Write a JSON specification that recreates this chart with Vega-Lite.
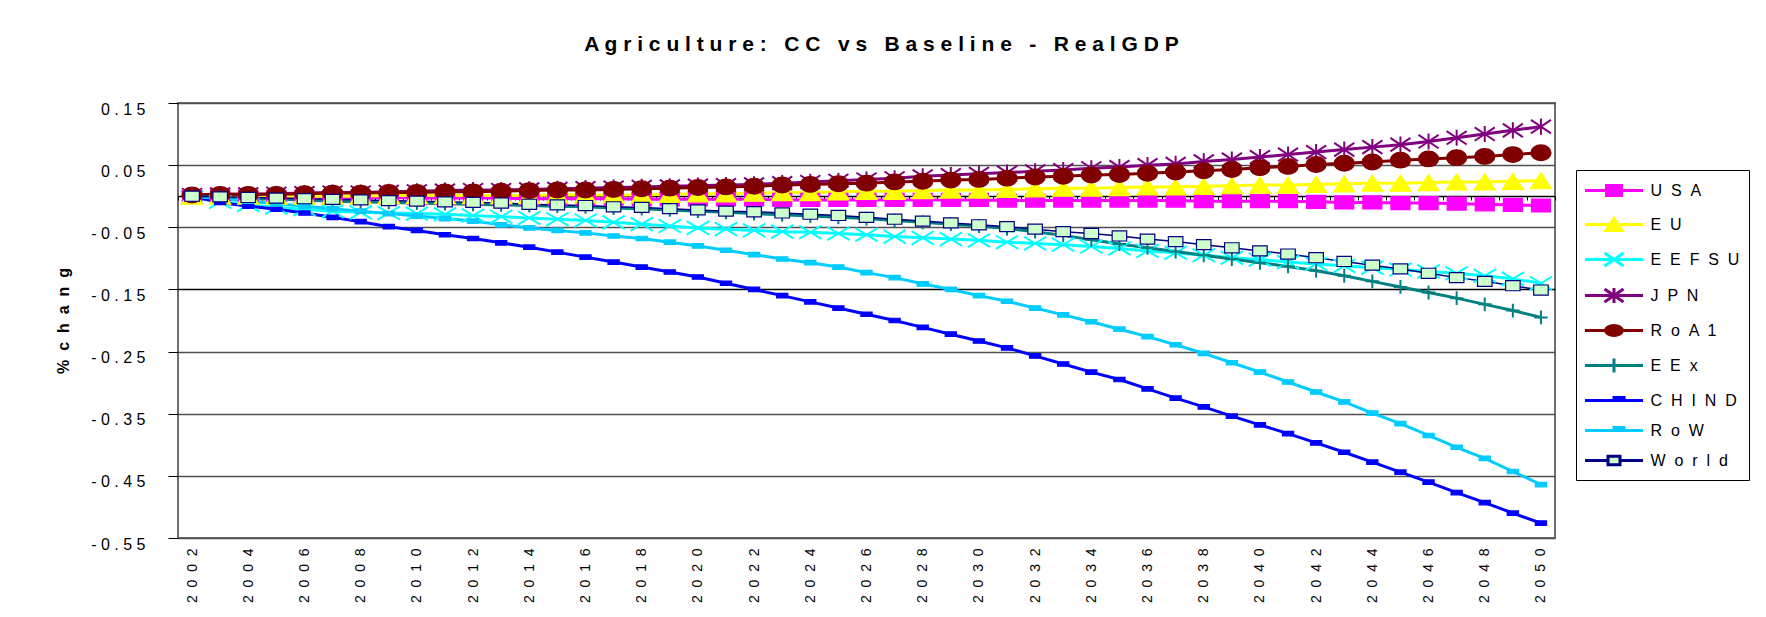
{
"$schema": "https://vega.github.io/schema/vega-lite/v6.json",
"width": 1377, "height": 435,
"autosize": {"type": "none"},
"padding": {"left": 178, "top": 103, "right": 211, "bottom": 79},
"background": "white",
"title": {"text": "A g r i c u l t u r e : \u00a0 C C \u00a0 v s \u00a0 B a s e l i n e \u00a0 - \u00a0 R e a l G D P", "fontSize": 21, "fontWeight": "bold", "color": "black", "anchor": "middle", "frame": "group", "dx": 15, "offset": 46},
"config": {"font": "Liberation Sans", "view": {"stroke": "#6E6E6E", "strokeWidth": 2, "fill": "#C0C0C0"}, "axis": {"labelColor": "black", "titleColor": "black"}},
"data": {"values": [
{"series":"USA","year":2002,"value":0},{"series":"USA","year":2003,"value":0},{"series":"USA","year":2004,"value":-0.001},{"series":"USA","year":2005,"value":-0.001},{"series":"USA","year":2006,"value":-0.001},{"series":"USA","year":2007,"value":-0.002},{"series":"USA","year":2008,"value":-0.002},{"series":"USA","year":2009,"value":-0.002},{"series":"USA","year":2010,"value":-0.003},{"series":"USA","year":2011,"value":-0.003},{"series":"USA","year":2012,"value":-0.003},{"series":"USA","year":2013,"value":-0.003},{"series":"USA","year":2014,"value":-0.004},{"series":"USA","year":2015,"value":-0.004},{"series":"USA","year":2016,"value":-0.004},{"series":"USA","year":2017,"value":-0.004},{"series":"USA","year":2018,"value":-0.005},{"series":"USA","year":2019,"value":-0.005},{"series":"USA","year":2020,"value":-0.005},{"series":"USA","year":2021,"value":-0.005},{"series":"USA","year":2022,"value":-0.005},{"series":"USA","year":2023,"value":-0.006},{"series":"USA","year":2024,"value":-0.006},{"series":"USA","year":2025,"value":-0.006},{"series":"USA","year":2026,"value":-0.006},{"series":"USA","year":2027,"value":-0.006},{"series":"USA","year":2028,"value":-0.006},{"series":"USA","year":2029,"value":-0.006},{"series":"USA","year":2030,"value":-0.006},{"series":"USA","year":2031,"value":-0.007},{"series":"USA","year":2032,"value":-0.007},{"series":"USA","year":2033,"value":-0.007},{"series":"USA","year":2034,"value":-0.007},{"series":"USA","year":2035,"value":-0.007},{"series":"USA","year":2036,"value":-0.007},{"series":"USA","year":2037,"value":-0.007},{"series":"USA","year":2038,"value":-0.008},{"series":"USA","year":2039,"value":-0.008},{"series":"USA","year":2040,"value":-0.008},{"series":"USA","year":2041,"value":-0.008},{"series":"USA","year":2042,"value":-0.009},{"series":"USA","year":2043,"value":-0.010},{"series":"USA","year":2044,"value":-0.010},{"series":"USA","year":2045,"value":-0.011},{"series":"USA","year":2046,"value":-0.011},{"series":"USA","year":2047,"value":-0.012},{"series":"USA","year":2048,"value":-0.013},{"series":"USA","year":2049,"value":-0.014},{"series":"USA","year":2050,"value":-0.015},
{"series":"EU","year":2002,"value":0},{"series":"EU","year":2003,"value":0},{"series":"EU","year":2004,"value":0},{"series":"EU","year":2005,"value":0},{"series":"EU","year":2006,"value":0},{"series":"EU","year":2007,"value":0},{"series":"EU","year":2008,"value":0},{"series":"EU","year":2009,"value":0.001},{"series":"EU","year":2010,"value":0.001},{"series":"EU","year":2011,"value":0.001},{"series":"EU","year":2012,"value":0.001},{"series":"EU","year":2013,"value":0.001},{"series":"EU","year":2014,"value":0.001},{"series":"EU","year":2015,"value":0.002},{"series":"EU","year":2016,"value":0.002},{"series":"EU","year":2017,"value":0.002},{"series":"EU","year":2018,"value":0.002},{"series":"EU","year":2019,"value":0.003},{"series":"EU","year":2020,"value":0.004},{"series":"EU","year":2021,"value":0.004},{"series":"EU","year":2022,"value":0.005},{"series":"EU","year":2023,"value":0.006},{"series":"EU","year":2024,"value":0.006},{"series":"EU","year":2025,"value":0.007},{"series":"EU","year":2026,"value":0.008},{"series":"EU","year":2027,"value":0.008},{"series":"EU","year":2028,"value":0.009},{"series":"EU","year":2029,"value":0.010},{"series":"EU","year":2030,"value":0.010},{"series":"EU","year":2031,"value":0.011},{"series":"EU","year":2032,"value":0.012},{"series":"EU","year":2033,"value":0.013},{"series":"EU","year":2034,"value":0.013},{"series":"EU","year":2035,"value":0.014},{"series":"EU","year":2036,"value":0.015},{"series":"EU","year":2037,"value":0.015},{"series":"EU","year":2038,"value":0.016},{"series":"EU","year":2039,"value":0.017},{"series":"EU","year":2040,"value":0.018},{"series":"EU","year":2041,"value":0.018},{"series":"EU","year":2042,"value":0.019},{"series":"EU","year":2043,"value":0.020},{"series":"EU","year":2044,"value":0.021},{"series":"EU","year":2045,"value":0.021},{"series":"EU","year":2046,"value":0.022},{"series":"EU","year":2047,"value":0.023},{"series":"EU","year":2048,"value":0.023},{"series":"EU","year":2049,"value":0.024},{"series":"EU","year":2050,"value":0.025},
{"series":"EEFSU","year":2002,"value":-0.002},{"series":"EEFSU","year":2003,"value":-0.009},{"series":"EEFSU","year":2004,"value":-0.014},{"series":"EEFSU","year":2005,"value":-0.018},{"series":"EEFSU","year":2006,"value":-0.021},{"series":"EEFSU","year":2007,"value":-0.024},{"series":"EEFSU","year":2008,"value":-0.026},{"series":"EEFSU","year":2009,"value":-0.027},{"series":"EEFSU","year":2010,"value":-0.028},{"series":"EEFSU","year":2011,"value":-0.029},{"series":"EEFSU","year":2012,"value":-0.031},{"series":"EEFSU","year":2013,"value":-0.033},{"series":"EEFSU","year":2014,"value":-0.035},{"series":"EEFSU","year":2015,"value":-0.037},{"series":"EEFSU","year":2016,"value":-0.039},{"series":"EEFSU","year":2017,"value":-0.042},{"series":"EEFSU","year":2018,"value":-0.045},{"series":"EEFSU","year":2019,"value":-0.048},{"series":"EEFSU","year":2020,"value":-0.051},{"series":"EEFSU","year":2021,"value":-0.053},{"series":"EEFSU","year":2022,"value":-0.055},{"series":"EEFSU","year":2023,"value":-0.057},{"series":"EEFSU","year":2024,"value":-0.058},{"series":"EEFSU","year":2025,"value":-0.060},{"series":"EEFSU","year":2026,"value":-0.062},{"series":"EEFSU","year":2027,"value":-0.065},{"series":"EEFSU","year":2028,"value":-0.067},{"series":"EEFSU","year":2029,"value":-0.069},{"series":"EEFSU","year":2030,"value":-0.071},{"series":"EEFSU","year":2031,"value":-0.074},{"series":"EEFSU","year":2032,"value":-0.076},{"series":"EEFSU","year":2033,"value":-0.078},{"series":"EEFSU","year":2034,"value":-0.081},{"series":"EEFSU","year":2035,"value":-0.084},{"series":"EEFSU","year":2036,"value":-0.088},{"series":"EEFSU","year":2037,"value":-0.091},{"series":"EEFSU","year":2038,"value":-0.095},{"series":"EEFSU","year":2039,"value":-0.099},{"series":"EEFSU","year":2040,"value":-0.102},{"series":"EEFSU","year":2041,"value":-0.106},{"series":"EEFSU","year":2042,"value":-0.109},{"series":"EEFSU","year":2043,"value":-0.112},{"series":"EEFSU","year":2044,"value":-0.115},{"series":"EEFSU","year":2045,"value":-0.118},{"series":"EEFSU","year":2046,"value":-0.121},{"series":"EEFSU","year":2047,"value":-0.124},{"series":"EEFSU","year":2048,"value":-0.128},{"series":"EEFSU","year":2049,"value":-0.133},{"series":"EEFSU","year":2050,"value":-0.140},
{"series":"JPN","year":2002,"value":0.002},{"series":"JPN","year":2003,"value":0.003},{"series":"JPN","year":2004,"value":0.003},{"series":"JPN","year":2005,"value":0.004},{"series":"JPN","year":2006,"value":0.005},{"series":"JPN","year":2007,"value":0.006},{"series":"JPN","year":2008,"value":0.006},{"series":"JPN","year":2009,"value":0.007},{"series":"JPN","year":2010,"value":0.008},{"series":"JPN","year":2011,"value":0.009},{"series":"JPN","year":2012,"value":0.010},{"series":"JPN","year":2013,"value":0.010},{"series":"JPN","year":2014,"value":0.011},{"series":"JPN","year":2015,"value":0.012},{"series":"JPN","year":2016,"value":0.013},{"series":"JPN","year":2017,"value":0.014},{"series":"JPN","year":2018,"value":0.015},{"series":"JPN","year":2019,"value":0.016},{"series":"JPN","year":2020,"value":0.017},{"series":"JPN","year":2021,"value":0.018},{"series":"JPN","year":2022,"value":0.019},{"series":"JPN","year":2023,"value":0.021},{"series":"JPN","year":2024,"value":0.023},{"series":"JPN","year":2025,"value":0.025},{"series":"JPN","year":2026,"value":0.027},{"series":"JPN","year":2027,"value":0.029},{"series":"JPN","year":2028,"value":0.032},{"series":"JPN","year":2029,"value":0.034},{"series":"JPN","year":2030,"value":0.036},{"series":"JPN","year":2031,"value":0.038},{"series":"JPN","year":2032,"value":0.040},{"series":"JPN","year":2033,"value":0.042},{"series":"JPN","year":2034,"value":0.045},{"series":"JPN","year":2035,"value":0.047},{"series":"JPN","year":2036,"value":0.050},{"series":"JPN","year":2037,"value":0.052},{"series":"JPN","year":2038,"value":0.056},{"series":"JPN","year":2039,"value":0.059},{"series":"JPN","year":2040,"value":0.063},{"series":"JPN","year":2041,"value":0.067},{"series":"JPN","year":2042,"value":0.071},{"series":"JPN","year":2043,"value":0.075},{"series":"JPN","year":2044,"value":0.079},{"series":"JPN","year":2045,"value":0.083},{"series":"JPN","year":2046,"value":0.088},{"series":"JPN","year":2047,"value":0.094},{"series":"JPN","year":2048,"value":0.100},{"series":"JPN","year":2049,"value":0.106},{"series":"JPN","year":2050,"value":0.112},
{"series":"RoA1","year":2002,"value":0.002},{"series":"RoA1","year":2003,"value":0.003},{"series":"RoA1","year":2004,"value":0.003},{"series":"RoA1","year":2005,"value":0.003},{"series":"RoA1","year":2006,"value":0.004},{"series":"RoA1","year":2007,"value":0.005},{"series":"RoA1","year":2008,"value":0.005},{"series":"RoA1","year":2009,"value":0.006},{"series":"RoA1","year":2010,"value":0.006},{"series":"RoA1","year":2011,"value":0.007},{"series":"RoA1","year":2012,"value":0.007},{"series":"RoA1","year":2013,"value":0.008},{"series":"RoA1","year":2014,"value":0.009},{"series":"RoA1","year":2015,"value":0.010},{"series":"RoA1","year":2016,"value":0.010},{"series":"RoA1","year":2017,"value":0.011},{"series":"RoA1","year":2018,"value":0.012},{"series":"RoA1","year":2019,"value":0.013},{"series":"RoA1","year":2020,"value":0.014},{"series":"RoA1","year":2021,"value":0.015},{"series":"RoA1","year":2022,"value":0.016},{"series":"RoA1","year":2023,"value":0.018},{"series":"RoA1","year":2024,"value":0.019},{"series":"RoA1","year":2025,"value":0.020},{"series":"RoA1","year":2026,"value":0.021},{"series":"RoA1","year":2027,"value":0.023},{"series":"RoA1","year":2028,"value":0.024},{"series":"RoA1","year":2029,"value":0.026},{"series":"RoA1","year":2030,"value":0.027},{"series":"RoA1","year":2031,"value":0.029},{"series":"RoA1","year":2032,"value":0.031},{"series":"RoA1","year":2033,"value":0.032},{"series":"RoA1","year":2034,"value":0.034},{"series":"RoA1","year":2035,"value":0.035},{"series":"RoA1","year":2036,"value":0.037},{"series":"RoA1","year":2037,"value":0.039},{"series":"RoA1","year":2038,"value":0.041},{"series":"RoA1","year":2039,"value":0.043},{"series":"RoA1","year":2040,"value":0.046},{"series":"RoA1","year":2041,"value":0.048},{"series":"RoA1","year":2042,"value":0.051},{"series":"RoA1","year":2043,"value":0.053},{"series":"RoA1","year":2044,"value":0.055},{"series":"RoA1","year":2045,"value":0.058},{"series":"RoA1","year":2046,"value":0.060},{"series":"RoA1","year":2047,"value":0.062},{"series":"RoA1","year":2048,"value":0.064},{"series":"RoA1","year":2049,"value":0.067},{"series":"RoA1","year":2050,"value":0.070},
{"series":"EEx","year":2002,"value":0},{"series":"EEx","year":2003,"value":-0.002},{"series":"EEx","year":2004,"value":-0.004},{"series":"EEx","year":2005,"value":-0.005},{"series":"EEx","year":2006,"value":-0.006},{"series":"EEx","year":2007,"value":-0.008},{"series":"EEx","year":2008,"value":-0.009},{"series":"EEx","year":2009,"value":-0.010},{"series":"EEx","year":2010,"value":-0.011},{"series":"EEx","year":2011,"value":-0.012},{"series":"EEx","year":2012,"value":-0.013},{"series":"EEx","year":2013,"value":-0.014},{"series":"EEx","year":2014,"value":-0.015},{"series":"EEx","year":2015,"value":-0.016},{"series":"EEx","year":2016,"value":-0.017},{"series":"EEx","year":2017,"value":-0.019},{"series":"EEx","year":2018,"value":-0.020},{"series":"EEx","year":2019,"value":-0.022},{"series":"EEx","year":2020,"value":-0.024},{"series":"EEx","year":2021,"value":-0.026},{"series":"EEx","year":2022,"value":-0.028},{"series":"EEx","year":2023,"value":-0.030},{"series":"EEx","year":2024,"value":-0.032},{"series":"EEx","year":2025,"value":-0.034},{"series":"EEx","year":2026,"value":-0.036},{"series":"EEx","year":2027,"value":-0.039},{"series":"EEx","year":2028,"value":-0.042},{"series":"EEx","year":2029,"value":-0.045},{"series":"EEx","year":2030,"value":-0.048},{"series":"EEx","year":2031,"value":-0.052},{"series":"EEx","year":2032,"value":-0.057},{"series":"EEx","year":2033,"value":-0.063},{"series":"EEx","year":2034,"value":-0.070},{"series":"EEx","year":2035,"value":-0.077},{"series":"EEx","year":2036,"value":-0.083},{"series":"EEx","year":2037,"value":-0.089},{"series":"EEx","year":2038,"value":-0.095},{"series":"EEx","year":2039,"value":-0.101},{"series":"EEx","year":2040,"value":-0.107},{"series":"EEx","year":2041,"value":-0.113},{"series":"EEx","year":2042,"value":-0.120},{"series":"EEx","year":2043,"value":-0.128},{"series":"EEx","year":2044,"value":-0.137},{"series":"EEx","year":2045,"value":-0.146},{"series":"EEx","year":2046,"value":-0.155},{"series":"EEx","year":2047,"value":-0.164},{"series":"EEx","year":2048,"value":-0.174},{"series":"EEx","year":2049,"value":-0.184},{"series":"EEx","year":2050,"value":-0.195},
{"series":"CHIND","year":2002,"value":0},{"series":"CHIND","year":2003,"value":-0.010},{"series":"CHIND","year":2004,"value":-0.016},{"series":"CHIND","year":2005,"value":-0.021},{"series":"CHIND","year":2006,"value":-0.027},{"series":"CHIND","year":2007,"value":-0.034},{"series":"CHIND","year":2008,"value":-0.041},{"series":"CHIND","year":2009,"value":-0.049},{"series":"CHIND","year":2010,"value":-0.055},{"series":"CHIND","year":2011,"value":-0.062},{"series":"CHIND","year":2012,"value":-0.068},{"series":"CHIND","year":2013,"value":-0.075},{"series":"CHIND","year":2014,"value":-0.082},{"series":"CHIND","year":2015,"value":-0.090},{"series":"CHIND","year":2016,"value":-0.098},{"series":"CHIND","year":2017,"value":-0.106},{"series":"CHIND","year":2018,"value":-0.114},{"series":"CHIND","year":2019,"value":-0.122},{"series":"CHIND","year":2020,"value":-0.130},{"series":"CHIND","year":2021,"value":-0.140},{"series":"CHIND","year":2022,"value":-0.150},{"series":"CHIND","year":2023,"value":-0.160},{"series":"CHIND","year":2024,"value":-0.170},{"series":"CHIND","year":2025,"value":-0.180},{"series":"CHIND","year":2026,"value":-0.190},{"series":"CHIND","year":2027,"value":-0.200},{"series":"CHIND","year":2028,"value":-0.211},{"series":"CHIND","year":2029,"value":-0.222},{"series":"CHIND","year":2030,"value":-0.233},{"series":"CHIND","year":2031,"value":-0.244},{"series":"CHIND","year":2032,"value":-0.257},{"series":"CHIND","year":2033,"value":-0.270},{"series":"CHIND","year":2034,"value":-0.283},{"series":"CHIND","year":2035,"value":-0.295},{"series":"CHIND","year":2036,"value":-0.310},{"series":"CHIND","year":2037,"value":-0.325},{"series":"CHIND","year":2038,"value":-0.339},{"series":"CHIND","year":2039,"value":-0.354},{"series":"CHIND","year":2040,"value":-0.368},{"series":"CHIND","year":2041,"value":-0.382},{"series":"CHIND","year":2042,"value":-0.397},{"series":"CHIND","year":2043,"value":-0.412},{"series":"CHIND","year":2044,"value":-0.428},{"series":"CHIND","year":2045,"value":-0.444},{"series":"CHIND","year":2046,"value":-0.460},{"series":"CHIND","year":2047,"value":-0.477},{"series":"CHIND","year":2048,"value":-0.493},{"series":"CHIND","year":2049,"value":-0.510},{"series":"CHIND","year":2050,"value":-0.526},
{"series":"RoW","year":2002,"value":0},{"series":"RoW","year":2003,"value":-0.004},{"series":"RoW","year":2004,"value":-0.008},{"series":"RoW","year":2005,"value":-0.012},{"series":"RoW","year":2006,"value":-0.016},{"series":"RoW","year":2007,"value":-0.020},{"series":"RoW","year":2008,"value":-0.024},{"series":"RoW","year":2009,"value":-0.028},{"series":"RoW","year":2010,"value":-0.032},{"series":"RoW","year":2011,"value":-0.036},{"series":"RoW","year":2012,"value":-0.040},{"series":"RoW","year":2013,"value":-0.046},{"series":"RoW","year":2014,"value":-0.051},{"series":"RoW","year":2015,"value":-0.055},{"series":"RoW","year":2016,"value":-0.059},{"series":"RoW","year":2017,"value":-0.064},{"series":"RoW","year":2018,"value":-0.068},{"series":"RoW","year":2019,"value":-0.074},{"series":"RoW","year":2020,"value":-0.080},{"series":"RoW","year":2021,"value":-0.087},{"series":"RoW","year":2022,"value":-0.094},{"series":"RoW","year":2023,"value":-0.101},{"series":"RoW","year":2024,"value":-0.107},{"series":"RoW","year":2025,"value":-0.114},{"series":"RoW","year":2026,"value":-0.123},{"series":"RoW","year":2027,"value":-0.131},{"series":"RoW","year":2028,"value":-0.141},{"series":"RoW","year":2029,"value":-0.150},{"series":"RoW","year":2030,"value":-0.160},{"series":"RoW","year":2031,"value":-0.169},{"series":"RoW","year":2032,"value":-0.180},{"series":"RoW","year":2033,"value":-0.191},{"series":"RoW","year":2034,"value":-0.202},{"series":"RoW","year":2035,"value":-0.214},{"series":"RoW","year":2036,"value":-0.226},{"series":"RoW","year":2037,"value":-0.239},{"series":"RoW","year":2038,"value":-0.253},{"series":"RoW","year":2039,"value":-0.268},{"series":"RoW","year":2040,"value":-0.283},{"series":"RoW","year":2041,"value":-0.299},{"series":"RoW","year":2042,"value":-0.315},{"series":"RoW","year":2043,"value":-0.331},{"series":"RoW","year":2044,"value":-0.349},{"series":"RoW","year":2045,"value":-0.366},{"series":"RoW","year":2046,"value":-0.385},{"series":"RoW","year":2047,"value":-0.404},{"series":"RoW","year":2048,"value":-0.422},{"series":"RoW","year":2049,"value":-0.443},{"series":"RoW","year":2050,"value":-0.464},
{"series":"World","year":2002,"value":0},{"series":"World","year":2003,"value":-0.001},{"series":"World","year":2004,"value":-0.002},{"series":"World","year":2005,"value":-0.003},{"series":"World","year":2006,"value":-0.004},{"series":"World","year":2007,"value":-0.005},{"series":"World","year":2008,"value":-0.006},{"series":"World","year":2009,"value":-0.007},{"series":"World","year":2010,"value":-0.008},{"series":"World","year":2011,"value":-0.009},{"series":"World","year":2012,"value":-0.010},{"series":"World","year":2013,"value":-0.011},{"series":"World","year":2014,"value":-0.013},{"series":"World","year":2015,"value":-0.014},{"series":"World","year":2016,"value":-0.015},{"series":"World","year":2017,"value":-0.017},{"series":"World","year":2018,"value":-0.018},{"series":"World","year":2019,"value":-0.020},{"series":"World","year":2020,"value":-0.022},{"series":"World","year":2021,"value":-0.024},{"series":"World","year":2022,"value":-0.025},{"series":"World","year":2023,"value":-0.027},{"series":"World","year":2024,"value":-0.029},{"series":"World","year":2025,"value":-0.031},{"series":"World","year":2026,"value":-0.034},{"series":"World","year":2027,"value":-0.037},{"series":"World","year":2028,"value":-0.040},{"series":"World","year":2029,"value":-0.043},{"series":"World","year":2030,"value":-0.046},{"series":"World","year":2031,"value":-0.049},{"series":"World","year":2032,"value":-0.053},{"series":"World","year":2033,"value":-0.057},{"series":"World","year":2034,"value":-0.060},{"series":"World","year":2035,"value":-0.064},{"series":"World","year":2036,"value":-0.069},{"series":"World","year":2037,"value":-0.073},{"series":"World","year":2038,"value":-0.078},{"series":"World","year":2039,"value":-0.083},{"series":"World","year":2040,"value":-0.088},{"series":"World","year":2041,"value":-0.093},{"series":"World","year":2042,"value":-0.099},{"series":"World","year":2043,"value":-0.105},{"series":"World","year":2044,"value":-0.111},{"series":"World","year":2045,"value":-0.117},{"series":"World","year":2046,"value":-0.124},{"series":"World","year":2047,"value":-0.131},{"series":"World","year":2048,"value":-0.137},{"series":"World","year":2049,"value":-0.144},{"series":"World","year":2050,"value":-0.151}
]},
"resolve": {"scale": {"shape": "independent"}, "axis": {"x": "independent", "y": "independent"}},
"layer": [
{
"transform": [{"filter": "datum.series !== 'World'"}],
"mark": {"type": "line", "strokeWidth": 3, "strokeJoin": "round"},
"encoding": {
"x": {"field": "year", "type": "quantitative", "scale": {"domain": [2001.5, 2050.5], "nice": false, "zero": false},
 "axis": {"values": [2002,2004,2006,2008,2010,2012,2014,2016,2018,2020,2022,2024,2026,2028,2030,2032,2034,2036,2038,2040,2042,2044,2046,2048,2050], "labelExpr": "join(split(toString(datum.value), ''), ' \u00a0')", "labelAngle": 270, "labelFontSize": 14, "labelPadding": 10, "ticks": false, "domain": false, "grid": false, "title": null, "labelOverlap": false}},
"y": {"field": "value", "type": "quantitative", "scale": {"domain": [-0.55, 0.15], "nice": false, "zero": false},
 "axis": {"values": [0.15, 0.05, -0.05, -0.15, -0.25, -0.35, -0.45, -0.55], "labelExpr": "join(split(toString(datum.value), ''), ' ')", "labelFontSize": 16, "labelPadding": 23, "labelOffset": 6, "tickSize": 10, "tickColor": "black", "tickWidth": 1, "domain": false, "grid": true, "gridColor": {"condition": {"test": "datum.value === -0.15", "value": "black"}, "value": "#505050"}, "gridWidth": 1.5, "title": "% \u00a0c \u00a0h \u00a0a \u00a0n \u00a0g", "titleFontSize": 16, "titleFontWeight": "bold", "titlePadding": 19, "labelOverlap": false}},
"stroke": {"field": "series", "type": "nominal", "scale": {"domain": ["USA","EU","EEFSU","JPN","RoA1","EEx","CHIND","RoW","World"], "range": ["#FF00FF","#FFFF00","#00FFFF","#800080","#800000","#008080","#0000FF","#00CCFF","#000080"]}, "legend": null}
}
},
{
"transform": [{"filter": "datum.series === 'World'"}],
"mark": {"type": "line", "strokeWidth": 1.5},
"encoding": {
"x": {"field": "year", "type": "quantitative", "scale": {"domain": [2001.5, 2050.5], "nice": false, "zero": false}, "axis": null},
"y": {"field": "value", "type": "quantitative", "scale": {"domain": [-0.55, 0.15], "nice": false, "zero": false}, "axis": null},
"stroke": {"field": "series", "type": "nominal", "scale": {"domain": ["USA","EU","EEFSU","JPN","RoA1","EEx","CHIND","RoW","World"], "range": ["#FF00FF","#FFFF00","#00FFFF","#800080","#800000","#008080","#0000FF","#00CCFF","#000080"]}, "legend": null}
}
},
{
"transform": [{"filter": "datum.series === 'EEFSU' || datum.series === 'JPN' || datum.series === 'EEx'"}],
"mark": {"type": "point", "size": 500, "strokeWidth": 2, "opacity": 1, "filled": false},
"encoding": {
"x": {"field": "year", "type": "quantitative", "scale": {"domain": [2001.5, 2050.5], "nice": false, "zero": false}, "axis": null},
"y": {"field": "value", "type": "quantitative", "scale": {"domain": [-0.55, 0.15], "nice": false, "zero": false}, "axis": null},
"shape": {"field": "series", "type": "nominal", "scale": {"domain": ["USA","EU","EEFSU","JPN","RoA1","EEx","CHIND","RoW","World"], "range": ["M-0.85,-0.58H0.85V0.58H-0.85Z","M0,-0.72L0.95,0.72H-0.95Z","M-1,-0.6L1,0.6M-1,0.6L1,-0.6","M-0.9,-0.6L0.9,0.6M-0.9,0.6L0.9,-0.6M0,-0.72V0.72","M-0.9,0A0.9,0.7 0 1,0 0.9,0A0.9,0.7 0 1,0 -0.9,0Z","M-0.6,0H0.6M0,-0.62V0.62","M-0.5,-0.2H0.5V0.2H-0.5Z","M-0.5,-0.2H0.5V0.2H-0.5Z","M-0.65,-0.45H0.65V0.45H-0.65Z"]}, "legend": null},
"stroke": {"field": "series", "type": "nominal", "scale": {"domain": ["USA","EU","EEFSU","JPN","RoA1","EEx","CHIND","RoW","World"], "range": ["#FF00FF","#FFFF00","#00FFFF","#800080","#800000","#008080","#0000FF","#00CCFF","#000080"]}, "legend": null}
}
},
{
"transform": [{"filter": "datum.series !== 'EEFSU' && datum.series !== 'JPN' && datum.series !== 'EEx'"}],
"mark": {"type": "point", "size": 500, "strokeWidth": 1.2, "opacity": 1},
"encoding": {
"x": {"field": "year", "type": "quantitative", "scale": {"domain": [2001.5, 2050.5], "nice": false, "zero": false},
 "axis": {"orient": "bottom", "offset": -342, "values": [2001.5,2002.5,2003.5,2004.5,2005.5,2006.5,2007.5,2008.5,2009.5,2010.5,2011.5,2012.5,2013.5,2014.5,2015.5,2016.5,2017.5,2018.5,2019.5,2020.5,2021.5,2022.5,2023.5,2024.5,2025.5,2026.5,2027.5,2028.5,2029.5,2030.5,2031.5,2032.5,2033.5,2034.5,2035.5,2036.5,2037.5,2038.5,2039.5,2040.5,2041.5,2042.5,2043.5,2044.5,2045.5,2046.5,2047.5,2048.5,2049.5,2050.5], "labels": false, "ticks": true, "tickSize": 4, "tickColor": "black", "tickWidth": 1, "domain": true, "domainColor": "black", "domainWidth": 1.5, "grid": false, "title": null, "zindex": 0}},
"y": {"field": "value", "type": "quantitative", "scale": {"domain": [-0.55, 0.15], "nice": false, "zero": false}, "axis": null},
"shape": {"field": "series", "type": "nominal", "scale": {"domain": ["USA","EU","EEFSU","JPN","RoA1","EEx","CHIND","RoW","World"], "range": ["M-0.85,-0.58H0.85V0.58H-0.85Z","M0,-0.72L0.95,0.72H-0.95Z","M-1,-0.6L1,0.6M-1,0.6L1,-0.6","M-0.9,-0.6L0.9,0.6M-0.9,0.6L0.9,-0.6M0,-0.72V0.72","M-0.9,0A0.9,0.7 0 1,0 0.9,0A0.9,0.7 0 1,0 -0.9,0Z","M-0.6,0H0.6M0,-0.62V0.62","M-0.5,-0.2H0.5V0.2H-0.5Z","M-0.5,-0.2H0.5V0.2H-0.5Z","M-0.65,-0.45H0.65V0.45H-0.65Z"]}, "legend": null},
"fill": {"field": "series", "type": "nominal", "scale": {"domain": ["USA","EU","EEFSU","JPN","RoA1","EEx","CHIND","RoW","World"], "range": ["#FF00FF","#FFFF00","transparent","transparent","#800000","transparent","#0000FF","#00CCFF","#CCFFCC"]}, "legend": null},
"stroke": {"field": "series", "type": "nominal", "scale": {"domain": ["USA","EU","EEFSU","JPN","RoA1","EEx","CHIND","RoW","World"], "range": ["#FF00FF","#FFFF00","#00FFFF","#800080","#800000","#008080","#0000FF","#00CCFF","#000080"]}, "legend": null}
}
},
{
"transform": [{"filter": "datum.year > 9999"}],
"mark": {"type": "point", "opacity": 1,
 "fill": {"expr": "datum.value === 'USA' ? '#FF00FF' : datum.value === 'EU' ? '#FFFF00' : datum.value === 'RoA1' ? '#800000' : datum.value === 'CHIND' ? '#0000FF' : datum.value === 'RoW' ? '#00CCFF' : datum.value === 'World' ? '#CCFFCC' : 'transparent'"},
 "stroke": {"expr": "datum.value === 'USA' ? '#FF00FF' : datum.value === 'EU' ? '#FFFF00' : datum.value === 'EEFSU' ? '#00FFFF' : datum.value === 'JPN' ? '#800080' : datum.value === 'RoA1' ? '#800000' : datum.value === 'EEx' ? '#008080' : datum.value === 'CHIND' ? '#0000FF' : datum.value === 'RoW' ? '#00CCFF' : '#000080'"},
 "strokeWidth": {"expr": "datum.value === 'World' ? 2 : 3"}},
"encoding": {
"shape": {"field": "series", "type": "nominal",
 "scale": {"domain": ["USA","EU","EEFSU","JPN","RoA1","EEx","CHIND","RoW","World"], "range": ["M-2.9,0H-0.75M0.75,0H2.9M-0.75,-0.5H0.75V0.5H-0.75Z","M-2.9,0H-0.4M0.4,0H2.9M0,-0.6L0.8,0.6H-0.8Z","M-2.9,0H2.9M-0.95,-0.65L0.95,0.65M-0.95,0.65L0.95,-0.65","M-2.9,0H2.9M-0.95,-0.65L0.95,0.65M-0.95,0.65L0.95,-0.65M0,-0.75V0.75","M-2.9,0H-0.85M0.85,0H2.9M-0.85,0A0.85,0.5 0 1,0 0.85,0A0.85,0.5 0 1,0 -0.85,0Z","M-2.9,0H2.9M0,-0.7V0.7","M-2.9,0H2.9M0,-0.3H1V0H0Z","M-2.9,0H2.9M0,-0.3H1V0H0Z","M-2.9,0H-0.6M0.6,0H2.9M-0.6,-0.42H0.6V0.42H-0.6Z"]},
 "legend": {"orient": "none", "legendX": 1398, "legendY": 67, "title": null, "strokeColor": "black", "fillColor": "white", "padding": 9,
  "symbolSize": 400, "symbolStrokeWidth": 3, "symbolOffset": 17.5, "labelOffset": 25, "labelFontSize": 16, "labelColor": "black", "labelLimit": 300, "rowPadding": 10,
  "labelExpr": "join(split(datum.label, ''), ' \u00a0')"
 }}
}
}
]
}
